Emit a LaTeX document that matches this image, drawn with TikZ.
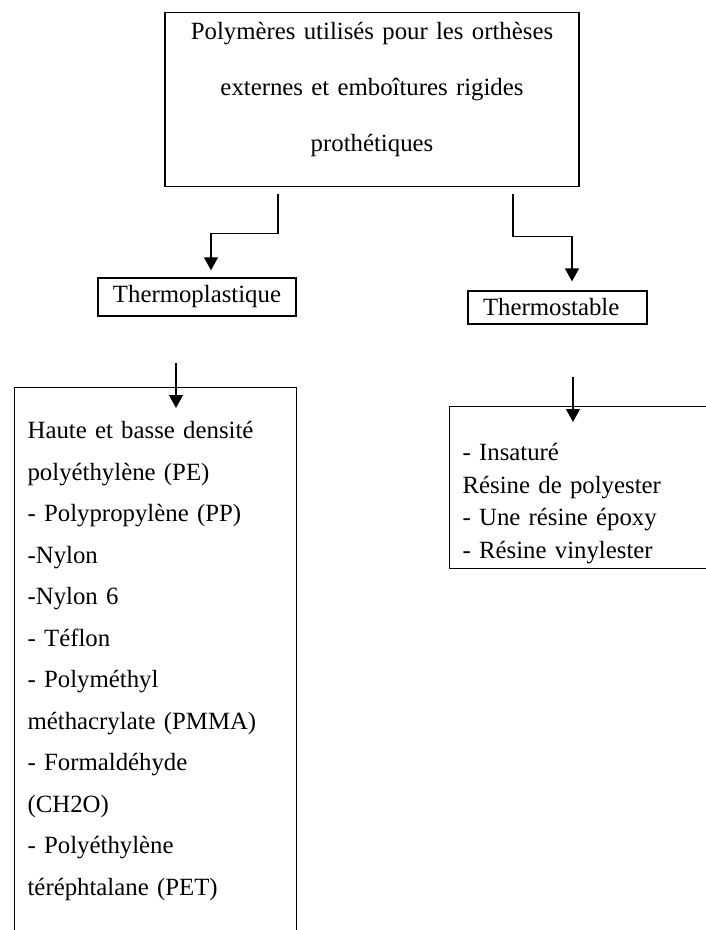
\documentclass[tikz,border=0pt]{standalone}
\usepackage{fontspec}
\setmainfont{Liberation Serif}
\usetikzlibrary{calc,positioning,arrows.meta}

\begin{document}
\begin{tikzpicture}[x=1pt,y=-1pt,
    box/.style={draw,line width=1.2pt,inner sep=0pt},
    txt/.style={font=\fontsize{24.8}{#1}\selectfont},
    arr/.style={line width=1.3pt,-{Triangle[length=13pt,width=14pt]}}]
  \useasboundingbox (0,0) rectangle (706,930);
  \clip (0,0) rectangle (706,930);
  % title box
  \node[box,txt=56,align=center,text width=414pt,text height=27pt,text depth=147pt,anchor=north] (top) at (372,12)
    {Polymères utilisés pour les orthèses\\externes et emboîtures rigides\\prothétiques};
  % the two families
  \node[box,txt=30,line width=1.5pt,minimum width=198pt,minimum height=38pt] (tpl) at (197,297) {Thermoplastique};
  \node[box,txt=30,text width=149pt,inner xsep=15pt,minimum height=33pt,align=left] (tst) at (557.5,307.5) {Thermostable};
  % lists
  \node[box,txt=41.5,text width=256pt,inner xsep=13pt,align=left,text height=51pt,text depth=600pt,anchor=north west] (plist) at (14,387)
    {Haute et basse densité\\polyéthylène (PE)\\- Polypropylène (PP)\\-Nylon\\-Nylon 6\\- Téflon\\- Polyméthyl\\méthacrylate (PMMA)\\- Formaldéhyde\\(CH2O)\\- Polyéthylène\\téréphtalane (PET)};
  \node[box,txt=32.5,text width=245pt,inner xsep=13pt,align=left,text height=54pt,text depth=108pt,anchor=north west] (tslist) at (449,406)
    {- Insaturé\\Résine de polyester\\- Une résine époxy\\- Résine vinylester};
  % arrows
  \draw[arr,shorten <=7pt,shorten >=7pt] ([xshift=-94pt]top.south) -- ++(0,46) -| ([xshift=14pt]tpl.north);
  \draw[arr,shorten <=7pt,shorten >=9pt] ([xshift=141pt]top.south) -- ++(0,49) -| ([xshift=14.5pt]tst.north);
  \coordinate (pl) at (176,363);
  \draw[arr] (pl) -- ([yshift=-21pt]pl |- plist.north);
  \coordinate (sl) at (573,377);
  \draw[arr] (sl) -- ([yshift=-16pt]sl |- tslist.north);
\end{tikzpicture}
\end{document}
